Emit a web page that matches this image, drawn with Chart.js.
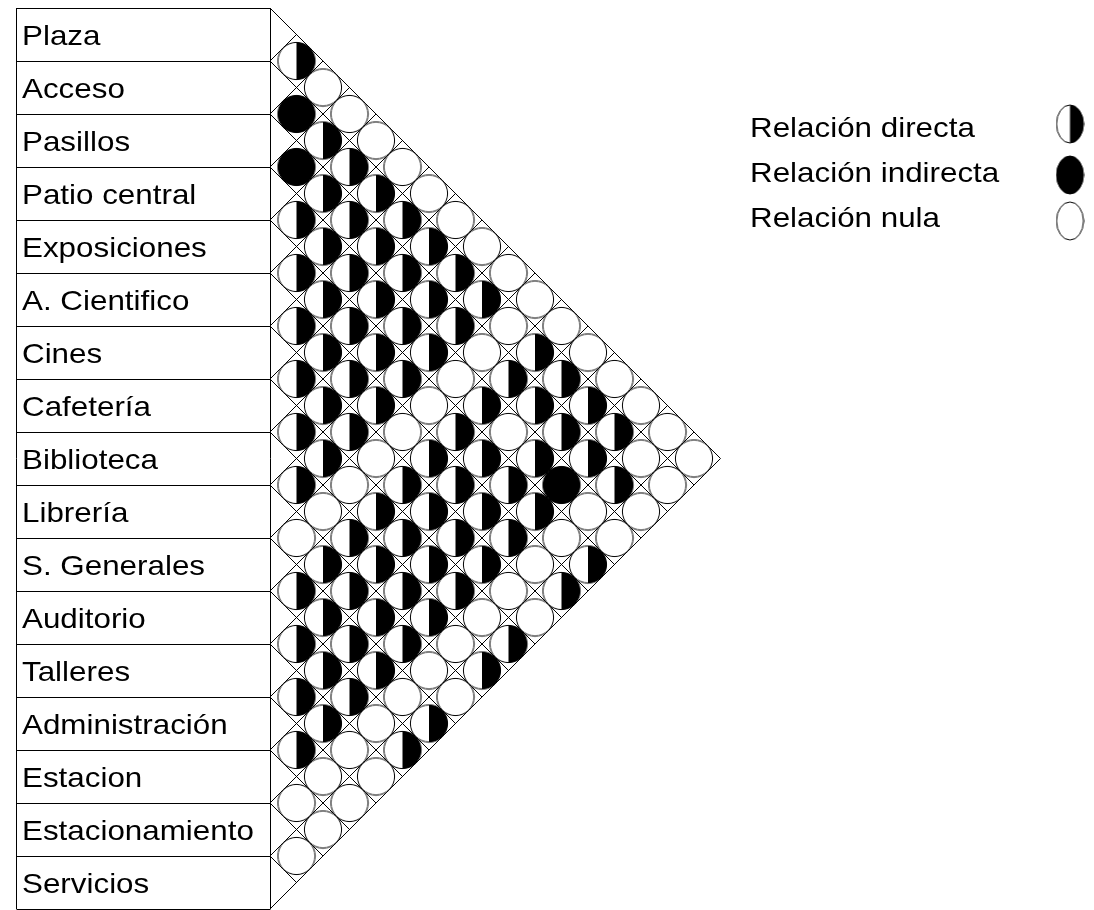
<!DOCTYPE html>
<html>
<head>
<meta charset="utf-8">
<script src="https://cdn.jsdelivr.net/npm/chart.js@4"></script>
<style>
  html, body { margin: 0; padding: 0; background: #ffffff; }
  canvas { display: block; }
</style>
</head>
<body>
<canvas id="matrix" width="1094" height="910"></canvas>
<script>
// spaces, top to bottom
const rooms = [
  'Plaza', 'Acceso', 'Pasillos', 'Patio central', 'Exposiciones', 'A. Cientifico',
  'Cines', 'Cafetería', 'Biblioteca', 'Librería', 'S. Generales', 'Auditorio',
  'Talleres', 'Administración', 'Estacion', 'Estacionamiento', 'Servicios'
];

// relation of each room with every room below it
// D = directa, I = indirecta, N = nula
const relations = [
  'DNNNNNNNNNNNNNNN',
  'IDDDDDDDNDDDDNN',
  'IDDDDDDNDDDDDN',
  'DDDDDDNDNDINN',
  'DDDDDNDDDDND',
  'DDDDNDDDDND',
  'DDDNDDDDNN',
  'DDNDDDDND',
  'DNDDDDND',
  'NDDDDNN',
  'DDDDND',
  'DDDND',
  'DDNN',
  'DNN',
  'NN',
  'N',
  ''
];

const relationCodes = ['D', 'I', 'N'];
const relationNames = ['Relación directa', 'Relación indirecta', 'Relación nula'];

const FONT = '28px "Liberation Sans", Arial, sans-serif';

// circle marks drawn into small canvases, used as point styles
function makeMark(code, rx, ry) {
  const c = document.createElement('canvas');
  c.width = Math.ceil(rx * 2 + 2);
  c.height = Math.ceil(ry * 2 + 2);
  const g = c.getContext('2d');
  const cx = c.width / 2, cy = c.height / 2;
  g.fillStyle = code === 'I' ? '#000' : '#fff';
  g.beginPath();
  g.ellipse(cx, cy, rx, ry, 0, 0, Math.PI * 2);
  g.fill();
  if (code === 'D') {
    g.fillStyle = '#000';
    g.beginPath();
    g.ellipse(cx, cy, rx, ry, 0, -Math.PI / 2, Math.PI / 2);
    g.closePath();
    g.fill();
  }
  g.strokeStyle = '#000';
  g.lineWidth = 1;
  g.beginPath();
  g.ellipse(cx, cy, rx, ry, 0, 0, Math.PI * 2);
  g.stroke();
  return c;
}

// x = distance between the two rooms, y = half-row position
const points = { D: [], I: [], N: [] };
relations.forEach((row, i) => {
  [...row].forEach((code, n) => {
    const j = i + n + 1;
    points[code].push({ x: j - i, y: i + j + 1, pair: rooms[i] + ' – ' + rooms[j] });
  });
});

function scaledText(ctx, text, x, y) {
  ctx.save();
  ctx.translate(x, y);
  ctx.scale(1.12, 1);
  ctx.fillText(text, 0, 0);
  ctx.restore();
}

const matrixPlugin = {
  id: 'matrixFrame',
  beforeDatasetsDraw(chart) {
    const { ctx, scales: { x, y } } = chart;
    const n = rooms.length;
    const px = v => x.getPixelForValue(v);
    const py = v => y.getPixelForValue(v);

    // diagonal lattice of the triangle
    ctx.save();
    ctx.strokeStyle = '#000';
    ctx.lineWidth = 1;
    ctx.beginPath();
    for (let m = 0; m <= n; m++) {
      ctx.moveTo(px(0), py(2 * m));
      ctx.lineTo(px(n - m), py(n + m));
      ctx.moveTo(px(0), py(2 * m));
      ctx.lineTo(px(m), py(m));
    }
    ctx.stroke();

    // room label boxes
    const left = 16.5;
    const right = Math.round(px(0)) + 0.5;
    ctx.beginPath();
    for (let i = 0; i <= n; i++) {
      const yy = Math.round(py(2 * i)) + 0.5;
      ctx.moveTo(left, yy);
      ctx.lineTo(right, yy);
    }
    ctx.moveTo(left, py(0));
    ctx.lineTo(left, py(2 * n));
    ctx.moveTo(right, py(0));
    ctx.lineTo(right, py(2 * n));
    ctx.stroke();

    ctx.fillStyle = '#000';
    ctx.font = FONT;
    ctx.textBaseline = 'alphabetic';
    rooms.forEach((name, i) => {
      scaledText(ctx, name, 22, py(2 * i + 1) + 10.5);
    });
    ctx.restore();
  },
  afterDraw(chart) {
    const ctx = chart.ctx;
    ctx.save();
    ctx.fillStyle = '#000';
    ctx.font = FONT;
    ctx.textBaseline = 'alphabetic';
    const baselines = [137, 182, 227];
    const iconY = [124, 175, 221];
    relationNames.forEach((label, k) => {
      scaledText(ctx, label, 750, baselines[k]);
      const icon = makeMark(relationCodes[k], 13.5, 19);
      ctx.drawImage(icon, 1070 - icon.width / 2, iconY[k] - icon.height / 2);
    });
    ctx.restore();
  }
};

const marks = {};
relationCodes.forEach(code => { marks[code] = makeMark(code, 18.6, 18.6); });

new Chart(document.getElementById('matrix').getContext('2d'), {
  type: 'scatter',
  data: {
    datasets: relationCodes.map((code, k) => ({
      label: relationNames[k],
      data: points[code],
      pointStyle: marks[code],
      pointRadius: 18,
      pointHoverRadius: 18,
      clip: false
    }))
  },
  options: {
    responsive: false,
    animation: false,
    layout: { autoPadding: false, padding: { left: 270, top: 8, right: 373.5, bottom: 1 } },
    plugins: {
      legend: { display: false },
      tooltip: {
        callbacks: {
          label: c => c.raw.pair + ': ' + c.dataset.label
        }
      }
    },
    scales: {
      x: { type: 'linear', min: 0, max: 17, display: false },
      y: { type: 'linear', min: 0, max: 34, reverse: true, display: false }
    }
  },
  plugins: [matrixPlugin]
});
</script>
</body>
</html>
